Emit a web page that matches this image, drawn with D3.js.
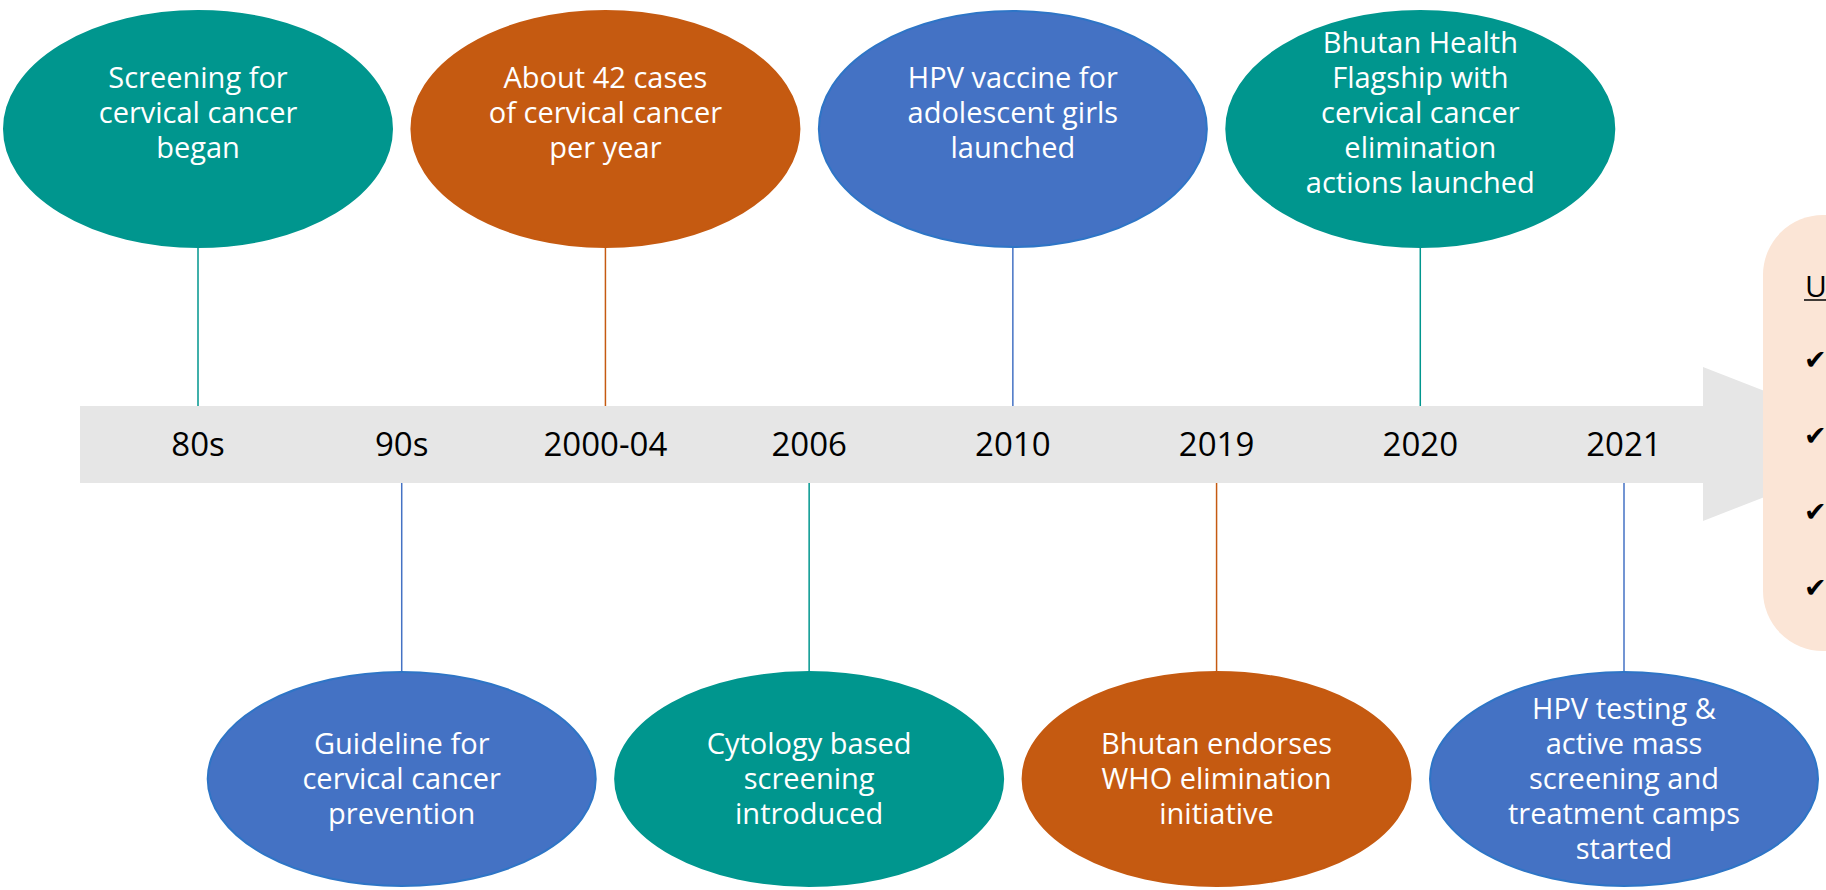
<!doctype html>
<html lang="en">
  <head>
    <meta charset="utf-8">
    <title>Cervical cancer timeline - Bhutan</title>
    <style>
      body { margin: 0; background: #fff; }
      svg { display: block; font-family: "Open Sans", "Noto Sans", sans-serif; }
    </style>
  </head>
  <body>
    <script src="https://cdn.jsdelivr.net/npm/d3@7"></script>
    <script>
      // timeline data
      var periods = ['80s', '90s', '2000-04', '2006', '2010', '2019', '2020', '2021'];
      var sides = ['top', 'bottom', 'top', 'bottom', 'top', 'bottom', 'top', 'bottom'];
      var kinds = ['teal', 'blue', 'orange', 'teal', 'blue', 'orange', 'teal', 'blue'];
      var events = [
        ['Screening for', 'cervical cancer', 'began'],
        ['Guideline for', 'cervical cancer', 'prevention'],
        ['About 42 cases', 'of cervical cancer', 'per year'],
        ['Cytology based', 'screening', 'introduced'],
        ['HPV vaccine for', 'adolescent girls', 'launched'],
        ['Bhutan endorses', 'WHO elimination', 'initiative'],
        ['Bhutan Health', 'Flagship with', 'cervical cancer', 'elimination', 'actions launched'],
        ['HPV testing &', 'active mass', 'screening and', 'treatment camps', 'started']
      ];
      var sideLetter = 'U';
      var checks = [1, 2, 3, 4];

      var width = 1826;
      var height = 890;

      var fill = d3.scaleOrdinal()
          .domain(['teal', 'blue', 'orange'])
          .range(['#00968E', '#4472C4', '#C55A11']);
      var stroke = d3.scaleOrdinal()
          .domain(['teal', 'blue', 'orange'])
          .range(['#00968E', '#2E75C6', '#C55A11']);

      var x = d3.scalePoint().domain(periods).range([198, 1624]);

      var band = { x0: 80, x1: 1703, top: 406, bottom: 483 };
      var ell = {
        top: { cy: 129, ry: 118, text: 113 },
        bottom: { cy: 779, ry: 107, text: 779 }
      };
      var rx = 194;
      var lineH = 35;

      var data = periods.map(function(p, i) {
        return { period: p, side: sides[i], kind: kinds[i], lines: events[i] };
      });

      var svg = d3.select('body').append('svg')
          .attr('width', width)
          .attr('height', height);

      // grey arrow
      svg.append('rect')
          .attr('x', band.x0)
          .attr('y', band.top)
          .attr('width', band.x1 - band.x0)
          .attr('height', band.bottom - band.top)
          .style('fill', '#E6E6E6');
      svg.append('path')
          .attr('d', 'M' + band.x1 + ',367L1900,444L' + band.x1 + ',521Z')
          .style('fill', '#E6E6E6');

      // summary box on the right, cut off by the page edge
      svg.append('rect')
          .attr('x', 1763)
          .attr('y', 215)
          .attr('width', 200)
          .attr('height', 436)
          .attr('rx', 60)
          .style('fill', '#FBE5D6');

      svg.append('text')
          .attr('x', 1805)
          .attr('y', 297)
          .style('font-size', '30px')
          .style('fill', '#000')
          .text(sideLetter);
      svg.append('line')
          .attr('x1', 1804).attr('x2', width)
          .attr('y1', 300).attr('y2', 300)
          .style('stroke', '#000')
          .style('stroke-width', 1.5);

      var checkY = d3.scaleLinear().domain([1, 4]).range([360, 588]);
      svg.selectAll('.check')
          .data(checks)
          .enter().append('text')
          .attr('class', 'check')
          .attr('x', 1804)
          .attr('y', function(d) { return checkY(d); })
          .attr('dy', '0.35em')
          .style('font-family', 'DejaVu Sans')
          .style('font-size', '27px')
          .style('fill', '#000')
          .text('\u2714');

      // period labels on the band
      svg.selectAll('.period')
          .data(data)
          .enter().append('text')
          .attr('class', 'period')
          .attr('x', function(d) { return x(d.period); })
          .attr('y', (band.top + band.bottom) / 2)
          .attr('dy', '0.36em')
          .attr('text-anchor', 'middle')
          .style('font-size', '33px')
          .style('fill', '#000')
          .text(function(d) { return d.period; });

      // connectors
      svg.selectAll('.link')
          .data(data)
          .enter().append('line')
          .attr('class', 'link')
          .attr('x1', function(d) { return x(d.period); })
          .attr('x2', function(d) { return x(d.period); })
          .attr('y1', function(d) {
            var e = ell[d.side];
            return d.side === 'top' ? e.cy + e.ry : band.bottom;
          })
          .attr('y2', function(d) {
            var e = ell[d.side];
            return d.side === 'top' ? band.top : e.cy - e.ry;
          })
          .style('stroke', function(d) { return fill(d.kind); })
          .style('stroke-width', 1.5);

      var bubble = svg.selectAll('.event')
          .data(data)
          .enter().append('g')
          .attr('class', 'event')
          .attr('transform', function(d) { return 'translate(' + x(d.period) + ',0)'; });

      bubble.append('ellipse')
          .attr('cx', 0)
          .attr('cy', function(d) { return ell[d.side].cy; })
          .attr('rx', rx)
          .attr('ry', function(d) { return ell[d.side].ry; })
          .style('fill', function(d) { return fill(d.kind); })
          .style('stroke', function(d) { return stroke(d.kind); })
          .style('stroke-width', 2);

      // one text per bubble, lines as tspans
      bubble.append('text')
          .attr('text-anchor', 'middle')
          .style('font-size', '29px')
          .style('fill', '#fff')
          .each(function(d) {
            var n = d.lines.length;
            var y0 = ell[d.side].text - (n - 1) * lineH / 2;
            d3.select(this).selectAll('tspan')
                .data(d.lines)
                .enter().append('tspan')
                .attr('x', 0)
                .attr('y', function(t, i) { return y0 + i * lineH; })
                .attr('dy', '0.36em')
                .text(function(t) { return t; });
          });
    </script>
  </body>
</html>
